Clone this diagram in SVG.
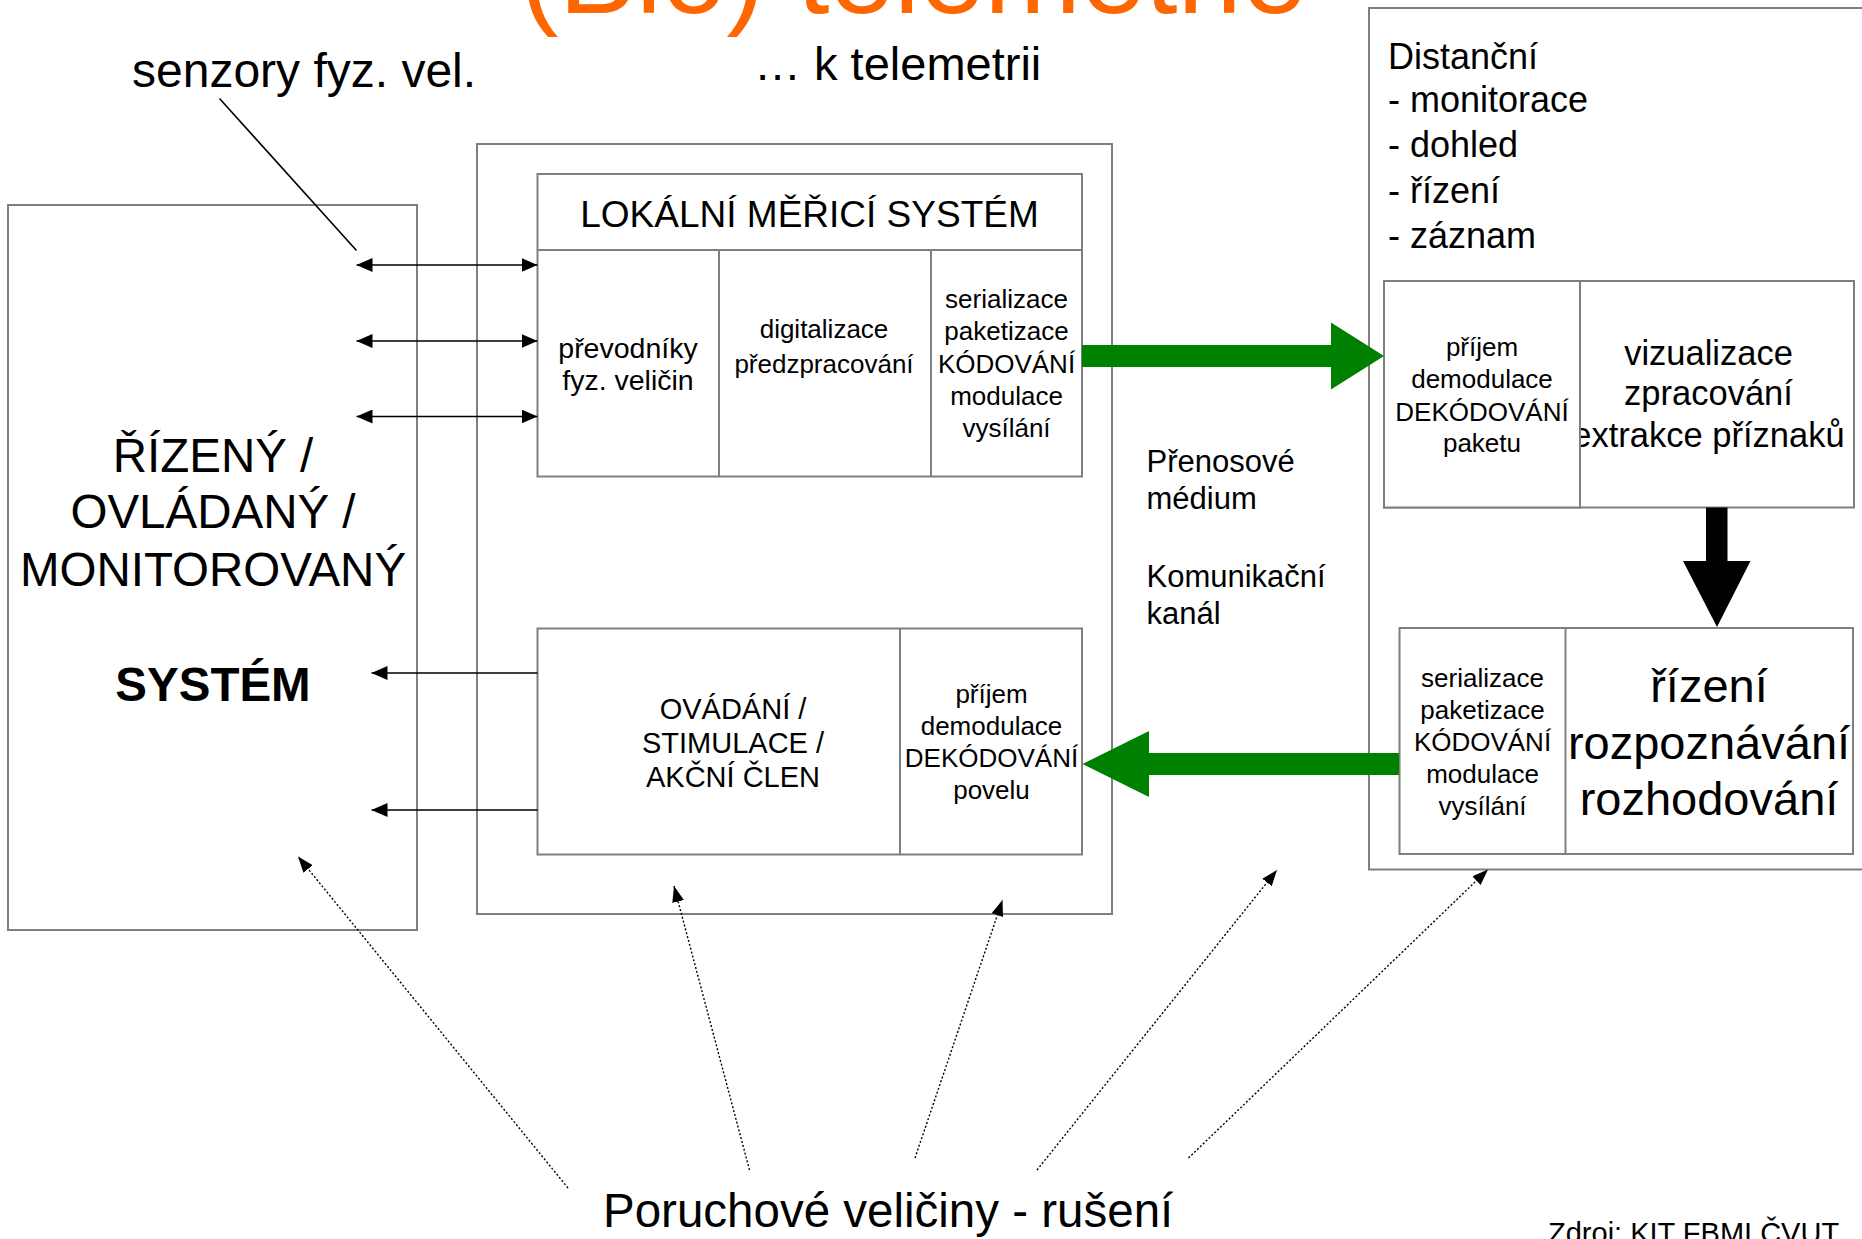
<svg xmlns="http://www.w3.org/2000/svg" width="1862" height="1239" viewBox="0 0 1862 1239">
  <style>
    .box { fill: #ffffff; stroke: #7f7f7f; stroke-width: 2; }
    .div { stroke: #7f7f7f; stroke-width: 2; fill: none; }
    .t { font-family: "Liberation Sans", Arial, Helvetica, sans-serif; fill: #000000; }
    .c { text-anchor: middle; }
    .s26 { font-size: 26px; }
    .conn { stroke: #000000; stroke-width: 1.6; fill: none; }
    .dot { stroke: #000000; stroke-width: 1.4; fill: none; stroke-dasharray: 2 2; }
    .green { fill: #008000; }
  </style>
  <defs>
    <marker id="head" markerUnits="userSpaceOnUse" viewBox="0 0 16 14" markerWidth="16" markerHeight="14" refX="16" refY="7" orient="auto-start-reverse">
      <path d="M0,0 L16,7 L0,14 Z" fill="#000000"/>
    </marker>
    <marker id="dhead" markerUnits="userSpaceOnUse" viewBox="0 0 16 12" markerWidth="16" markerHeight="12" refX="16" refY="6" orient="auto">
      <path d="M0,0 L16,6 L0,12 Z" fill="#000000"/>
    </marker>
  </defs>

  <rect x="0" y="0" width="1862" height="1239" fill="#ffffff"/>

  <!-- headings -->
  <text class="t" x="520" y="13" font-size="116" style="fill:#ff6600">(Bio) telemetrie</text>
  <text class="t" x="754" y="80" font-size="47">… k telemetrii</text>
  <text class="t" x="132" y="87" font-size="48">senzory fyz. vel.</text>

  <!-- controlled system -->
  <g id="system">
    <rect class="box" x="8" y="205" width="409" height="725"/>
    <text class="t c" x="213" y="472" font-size="47.5">ŘÍZENÝ /</text>
    <text class="t c" x="213" y="528" font-size="47.5">OVLÁDANÝ /</text>
    <text class="t c" x="213" y="586" font-size="47.5">MONITOROVANÝ</text>
    <text class="t c" x="213" y="701" font-size="47.5" font-weight="bold">SYSTÉM</text>
  </g>

  <!-- local unit frame -->
  <g id="local-unit">
    <rect class="box" x="477" y="144" width="635" height="770"/>
  </g>

  <!-- local measuring system -->
  <g id="local-measuring">
    <rect class="box" x="537.5" y="174" width="544.5" height="302.5"/>
    <line class="div" x1="537.5" y1="250" x2="1082" y2="250"/>
    <line class="div" x1="719" y1="250" x2="719" y2="476.5"/>
    <line class="div" x1="931" y1="250" x2="931" y2="476.5"/>
    <text class="t c" x="809.5" y="226.5" font-size="37">LOKÁLNÍ MĚŘICÍ SYSTÉM</text>
    <text class="t c" x="628" y="358" font-size="28.5">převodníky</text>
    <text class="t c" x="628" y="390" font-size="28.5">fyz. veličin</text>
    <text class="t c s26" x="824" y="338">digitalizace</text>
    <text class="t c s26" x="824" y="373">předzpracování</text>
    <text class="t c s26" x="1006.5" y="308">serializace</text>
    <text class="t c s26" x="1006.5" y="340">paketizace</text>
    <text class="t c s26" x="1006.5" y="373">KÓDOVÁNÍ</text>
    <text class="t c s26" x="1006.5" y="405">modulace</text>
    <text class="t c s26" x="1006.5" y="437">vysílání</text>
  </g>

  <!-- actuator block -->
  <g id="actuator">
    <rect class="box" x="537.5" y="628.5" width="544.5" height="226"/>
    <line class="div" x1="900" y1="628.5" x2="900" y2="854.5"/>
    <text class="t c" x="733" y="718.5" font-size="29">OVÁDÁNÍ /</text>
    <text class="t c" x="733" y="752.5" font-size="29">STIMULACE /</text>
    <text class="t c" x="733" y="786.5" font-size="29">AKČNÍ ČLEN</text>
    <text class="t c s26" x="991.5" y="703">příjem</text>
    <text class="t c s26" x="991.5" y="735">demodulace</text>
    <text class="t c s26" x="991.5" y="767">DEKÓDOVÁNÍ</text>
    <text class="t c s26" x="991.5" y="799">povelu</text>
  </g>

  <!-- transmission medium -->
  <g id="channel">
    <text class="t" x="1146.5" y="471.5" font-size="31">Přenosové</text>
    <text class="t" x="1146.5" y="509" font-size="31">médium</text>
    <text class="t" x="1146.5" y="586.5" font-size="31">Komunikační</text>
    <text class="t" x="1146.5" y="623.5" font-size="31">kanál</text>
  </g>

  <!-- remote station frame -->
  <g id="remote">
    <rect class="box" x="1369" y="8" width="600" height="861.5"/>
    <text class="t" x="1388" y="69" font-size="36">Distanční</text>
    <text class="t" x="1388" y="112" font-size="36">- monitorace</text>
    <text class="t" x="1388" y="157" font-size="36">- dohled</text>
    <text class="t" x="1388" y="202.5" font-size="36">- řízení</text>
    <text class="t" x="1388" y="248" font-size="36">- záznam</text>
  </g>

  <!-- remote receiver / processing -->
  <g id="remote-receive">
    <rect class="box" x="1384" y="281" width="470" height="226.5"/>
    <text class="t c" x="1708.5" y="365" font-size="34.5">vizualizace</text>
    <text class="t c" x="1708.5" y="405" font-size="34.5">zpracování</text>
    <text class="t c" x="1708.5" y="446.5" font-size="34.5">extrakce příznaků</text>
    <rect class="box" x="1384" y="281" width="196" height="226.5"/>
    <text class="t c s26" x="1482" y="356">příjem</text>
    <text class="t c s26" x="1482" y="388">demodulace</text>
    <text class="t c s26" x="1482" y="420.5">DEKÓDOVÁNÍ</text>
    <text class="t c s26" x="1482" y="452">paketu</text>
  </g>

  <!-- remote control / decision -->
  <g id="remote-control">
    <rect class="box" x="1399.5" y="628" width="453.5" height="226"/>
    <line class="div" x1="1565.5" y1="628" x2="1565.5" y2="854"/>
    <text class="t c s26" x="1482.5" y="686.5">serializace</text>
    <text class="t c s26" x="1482.5" y="718.5">paketizace</text>
    <text class="t c s26" x="1482.5" y="750.5">KÓDOVÁNÍ</text>
    <text class="t c s26" x="1482.5" y="782.5">modulace</text>
    <text class="t c s26" x="1482.5" y="815">vysílání</text>
    <text class="t c" x="1709" y="701.5" font-size="47">řízení</text>
    <text class="t c" x="1709" y="758.5" font-size="47">rozpoznávání</text>
    <text class="t c" x="1709" y="815" font-size="47">rozhodování</text>
  </g>

  <!-- disturbances -->
  <g id="disturbances">
    <text class="t" x="603" y="1226.5" font-size="47.5">Poruchové veličiny - rušení</text>
  </g>

  <text class="t" x="1548" y="1242.5" font-size="29">Zdroj: KIT FBMI ČVUT</text>

  <!-- connectors -->
  <g id="connectors">
    <line class="conn" x1="219.5" y1="98.5" x2="356.5" y2="250.5"/>

    <line class="conn" x1="356.5" y1="265" x2="537.5" y2="265" marker-start="url(#head)" marker-end="url(#head)"/>
    <line class="conn" x1="356.5" y1="341" x2="537.5" y2="341" marker-start="url(#head)" marker-end="url(#head)"/>
    <line class="conn" x1="356.5" y1="416.5" x2="537.5" y2="416.5" marker-start="url(#head)" marker-end="url(#head)"/>

    <line class="conn" x1="537.5" y1="673" x2="371.5" y2="673" marker-end="url(#head)"/>
    <line class="conn" x1="537.5" y1="810" x2="371.5" y2="810" marker-end="url(#head)"/>

    <polygon class="green" points="1082,345 1331,345 1331,322.5 1384,356 1331,389.5 1331,367 1082,367"/>
    <polygon class="green" points="1399,753 1149,753 1149,731 1082.5,764 1149,797 1149,775 1399,775"/>
    <polygon fill="#000000" points="1706,507.5 1727.5,507.5 1727.5,561 1750.5,561 1717,627 1683,561 1706,561"/>

    <line class="dot" x1="568" y1="1188" x2="298" y2="856.5" marker-end="url(#dhead)"/>
    <line class="dot" x1="749.5" y1="1170" x2="674" y2="886" marker-end="url(#dhead)"/>
    <line class="dot" x1="915" y1="1158" x2="1002.5" y2="900" marker-end="url(#dhead)"/>
    <line class="dot" x1="1037" y1="1170" x2="1277" y2="870" marker-end="url(#dhead)"/>
    <line class="dot" x1="1188.5" y1="1158" x2="1488" y2="869.5" marker-end="url(#dhead)"/>
  </g>
</svg>
